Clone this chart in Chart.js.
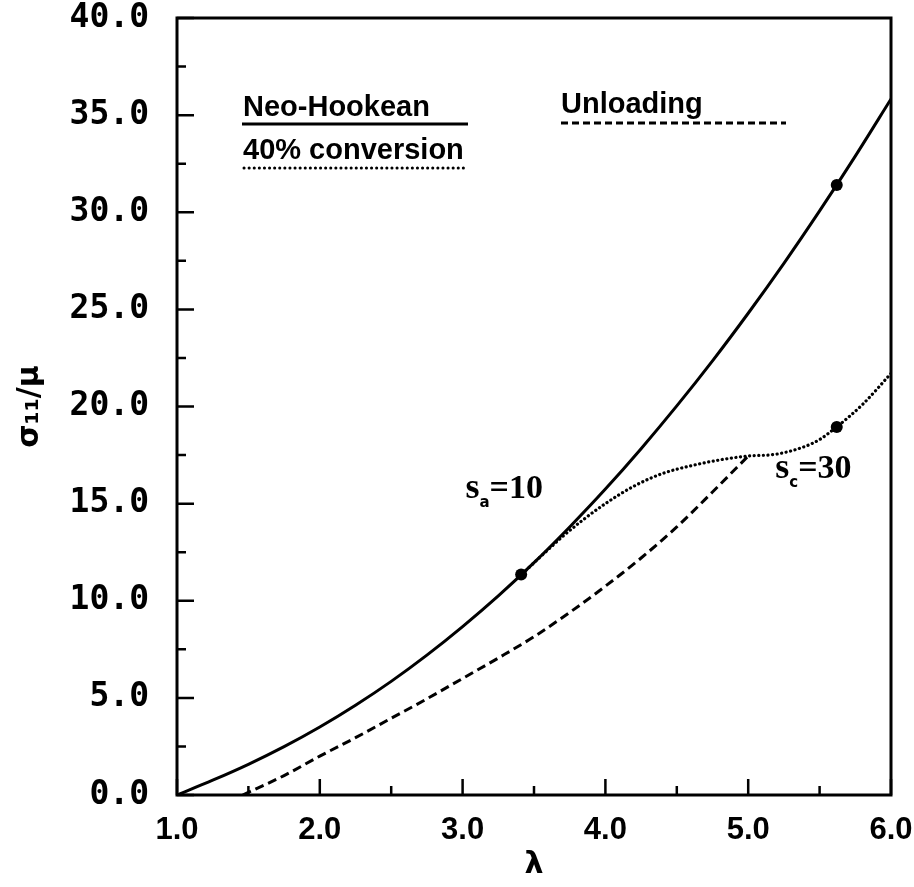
<!DOCTYPE html>
<html><head><meta charset="utf-8">
<script src="https://cdn.jsdelivr.net/npm/chart.js@4/dist/chart.umd.min.js"></script>
<style>html,body{margin:0;padding:0;background:#fff}#wrap{width:914px;height:887px}</style>
</head><body><div id="wrap"><canvas id="c" width="914" height="887"></canvas></div>
<script>
// ---- data ----
const xTickValues = [1, 2, 3, 4, 5, 6];
const xMinorTicks = [1.5, 2.5, 3.5, 4.5, 5.5];
const yTickValues = [0, 5, 10, 15, 20, 25, 30, 35, 40];
const yMinorTicks = [2.5, 7.5, 12.5, 17.5, 22.5, 27.5, 32.5, 37.5];

// Neo-Hookean (solid)
const neoLambda = [1.0, 1.25, 1.5, 1.75, 2.0, 2.25, 2.5, 2.75, 3.0, 3.25, 3.5, 3.75, 4.0, 4.25, 4.5, 4.75, 5.0, 5.25, 5.5, 5.75, 6.0];
const neoStress = [0.0, 0.76, 1.58, 2.49, 3.5, 4.62, 5.85, 7.2, 8.67, 10.25, 11.96, 13.8, 15.75, 17.83, 20.03, 22.35, 24.8, 27.37, 30.07, 32.89, 35.83];

// 40% conversion (dotted)
const convLambda = [3.42, 3.55, 3.7, 3.85, 4.0, 4.2, 4.4, 4.6, 4.8, 5.0, 5.2, 5.4, 5.5, 5.62, 5.8, 6.0];
const convStress = [11.4, 12.3, 13.3, 14.2, 15.0, 15.9, 16.55, 16.95, 17.25, 17.45, 17.55, 17.95, 18.3, 18.95, 20.1, 21.7];

// Unloading (dashed)
const unloadLambda = [1.46, 1.75, 2.0, 2.25, 2.5, 2.75, 3.0, 3.25, 3.5, 3.75, 4.0, 4.25, 4.5, 4.75, 5.0];
const unloadStress = [0.0, 1.0, 2.0, 2.95, 3.95, 4.95, 6.0, 7.05, 8.15, 9.4, 10.75, 12.2, 13.8, 15.6, 17.45];

// marked points
const markerLambda = [3.41, 5.62, 5.62];
const markerStress = [11.35, 31.4, 18.95];

// annotation labels
const annotationBase = ['s', 's'];
const annotationSub = ['a', 'c'];
const annotationRest = ['=10', '=30'];
const annotationLambda = [3.02, 5.19];
const annotationStress = [15.3, 16.3];

// legend
const legendLabels = ['Neo-Hookean', '40% conversion', 'Unloading'];

const pts = (xs, ys) => xs.map((x, i) => ({x, y: ys[i]}));

const framePlugin = {
  id: 'frame',
  afterDraw(chart) {
    const {ctx, chartArea: {left, right, top, bottom}, scales: {x, y}} = chart;
    ctx.save();
    ctx.strokeStyle = '#000';
    ctx.lineWidth = 3;
    ctx.strokeRect(left, top, right - left, bottom - top);
    ctx.lineWidth = 2.5;
    ctx.beginPath();
    xTickValues.forEach(v => { const px = x.getPixelForValue(v); ctx.moveTo(px, bottom); ctx.lineTo(px, bottom - 16); });
    xMinorTicks.forEach(v => { const px = x.getPixelForValue(v); ctx.moveTo(px, bottom); ctx.lineTo(px, bottom - 9); });
    yTickValues.forEach(v => { const py = y.getPixelForValue(v); ctx.moveTo(left, py); ctx.lineTo(left + 17, py); });
    yMinorTicks.forEach(v => { const py = y.getPixelForValue(v); ctx.moveTo(left, py); ctx.lineTo(left + 9, py); });
    ctx.stroke();

    // annotations
    ctx.fillStyle = '#000';
    ctx.textBaseline = 'alphabetic';
    ctx.textAlign = 'left';
    annotationBase.forEach((b, i) => {
      let px = x.getPixelForValue(annotationLambda[i]);
      const py = y.getPixelForValue(annotationStress[i]);
      ctx.font = 'bold 36px "Liberation Serif"';
      ctx.fillText(b, px, py);
      px += ctx.measureText(b).width;
      ctx.font = 'bold 15px "DejaVu Sans"';
      ctx.fillText(annotationSub[i], px, py + 9);
      px += ctx.measureText(annotationSub[i]).width;
      ctx.font = 'bold 34px "Liberation Serif"';
      ctx.fillText(annotationRest[i], px, py);
    });

    // legend
    ctx.font = 'bold 29px "Liberation Sans"';
    ctx.fillText(legendLabels[0], 243, 116);
    ctx.fillText(legendLabels[1], 243, 159);
    ctx.fillText(legendLabels[2], 561, 113);
    ctx.lineWidth = 3;
    ctx.beginPath(); ctx.setLineDash([]); ctx.moveTo(242, 124); ctx.lineTo(468, 124); ctx.stroke();
    ctx.lineCap = 'round'; ctx.lineWidth = 3;
    ctx.beginPath(); ctx.setLineDash([0.1, 5]); ctx.moveTo(244, 168); ctx.lineTo(468, 168); ctx.stroke();
    ctx.lineCap = 'butt'; ctx.lineWidth = 3;
    ctx.beginPath(); ctx.setLineDash([7, 4]); ctx.moveTo(561, 123); ctx.lineTo(786, 123); ctx.stroke();
    ctx.restore();
  }
};

new Chart(document.getElementById('c'), {
  type: 'scatter',
  data: {
    datasets: [
      {label: legendLabels[0], data: pts(neoLambda, neoStress), showLine: true, borderColor: '#000', borderWidth: 3, pointRadius: 0, cubicInterpolationMode: 'monotone'},
      {label: legendLabels[1], data: pts(convLambda, convStress), showLine: true, borderColor: '#000', borderWidth: 3.2, borderDash: [0.1, 4.5], borderCapStyle: 'round', pointRadius: 0, cubicInterpolationMode: 'monotone'},
      {label: legendLabels[2], data: pts(unloadLambda, unloadStress), showLine: true, borderColor: '#000', borderWidth: 3, borderDash: [9, 5], pointRadius: 0, cubicInterpolationMode: 'monotone'},
      {label: 'points', data: pts(markerLambda, markerStress), showLine: false, pointRadius: 6, pointBackgroundColor: '#000', pointBorderColor: '#000', pointBorderWidth: 0}
    ]
  },
  options: {
    responsive: false,
    animation: false,
    devicePixelRatio: 1,
    layout: {padding: {top: 18, right: 23, left: 0, bottom: 0}},
    plugins: {legend: {display: false}, tooltip: {enabled: false}},
    scales: {
      x: {
        type: 'linear', min: 1, max: 6,
        afterBuildTicks: s => { s.ticks = xTickValues.map(v => ({value: v})); },
        ticks: {callback: v => Number(v).toFixed(1), color: '#000', font: {family: 'Liberation Sans', weight: 'bold', size: 31}, padding: 17, maxRotation: 0, autoSkip: false},
        grid: {display: false, drawTicks: false},
        border: {display: false},
        title: {display: true, text: 'λ', color: '#000', font: {family: 'DejaVu Sans', weight: 'bold', size: 30}, padding: {top: 0, bottom: 4}},
        afterFit: s => { s.height = 92; s.paddingLeft = 0; s.paddingRight = 0; }
      },
      y: {
        type: 'linear', min: 0, max: 40,
        afterBuildTicks: s => { s.ticks = yTickValues.map(v => ({value: v})); },
        ticks: {callback: v => Number(v).toFixed(1), color: '#000', font: {family: 'DejaVu Sans Mono', weight: 'bold', size: 33}, padding: 28, autoSkip: false},
        grid: {display: false, drawTicks: false},
        border: {display: false},
        title: {display: true, text: 'σ₁₁/μ', color: '#000', font: {family: 'DejaVu Sans', weight: 'bold', size: 30}, padding: {top: 12, bottom: 0}},
        afterFit: s => { s.width = 177; s.paddingTop = 0; s.paddingBottom = 0; }
      }
    }
  },
  plugins: [framePlugin]
});
</script>
</body></html>
